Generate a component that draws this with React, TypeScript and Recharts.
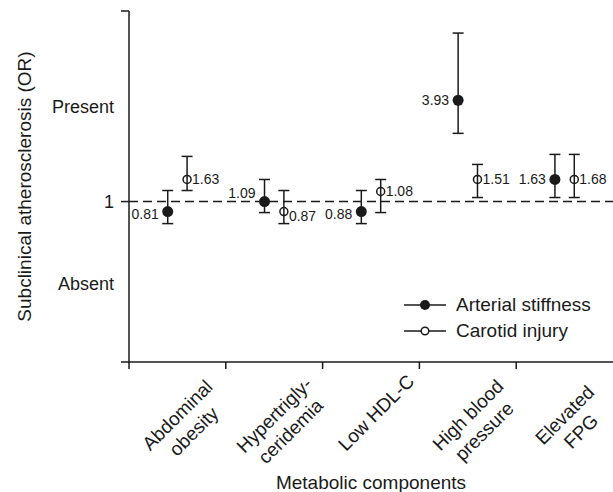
import { ScatterChart, Scatter, XAxis, YAxis, ErrorBar, ReferenceLine, Legend } from "recharts";

const categories = [
  ["Abdominal", "obesity"],
  ["Hypertrigly-", "ceridemia"],
  ["Low HDL-C"],
  ["High blood", "pressure"],
  ["Elevated", "FPG"],
];

// odds ratios printed next to the markers
const arterialOR = ["0.81", "1.09", "0.88", "3.93", "1.63"];
const carotidOR = ["1.63", "0.87", "1.08", "1.51", "1.68"];

// plotted heights on the schematic axis (0 = OR of 1)
const arterialPos = [-1.0, 0, -1.0, 10.1, 2.2];
const arterialLow = [-2.2, -1.1, -2.2, 6.8, 0.4];
const arterialHigh = [1.1, 2.2, 1.1, 16.8, 4.7];
const carotidPos = [2.2, -1.0, 1.0, 2.2, 2.2];
const carotidLow = [1.1, -2.2, -1.1, 0.4, 0.4];
const carotidHigh = [4.5, 1.1, 2.2, 3.7, 4.7];

const yTickValues = [-16, -8.2, 0, 9.5, 19];
const yTickText: Record<string, string> = { "-8.2": "Absent", "0": "1", "9.5": "Present" };

const INK = "#1a1a1a";
const AXIS_X = 129;
const BAND = (613 - AXIS_X) / 5;

const arterialData = categories.map((_, i) => ({
  x: i + 0.4,
  y: arterialPos[i],
  err: [arterialPos[i] - arterialLow[i], arterialHigh[i] - arterialPos[i]],
  label: arterialOR[i],
}));

const carotidData = categories.map((_, i) => ({
  x: i + 0.6,
  y: carotidPos[i],
  err: [carotidPos[i] - carotidLow[i], carotidHigh[i] - carotidPos[i]],
  label: carotidOR[i],
}));

const YTick = (props: any) => {
  const { y, payload } = props;
  const v = payload.value;
  const text = yTickText[String(v)];
  return (
    <g>
      {text === undefined || v === 0 ? (
        <line x1={AXIS_X - 8} x2={AXIS_X} y1={y} y2={y} stroke={INK} strokeWidth={1.5} />
      ) : null}
      {text !== undefined ? (
        <text x={114} y={y} dy="0.35em" textAnchor="end" fontSize={18} fill={INK}>
          {text}
        </text>
      ) : null}
    </g>
  );
};

const XTick = (props: any) => {
  const { x, payload } = props;
  const lines = categories[payload.value] || [];
  const shift = lines.length === 1 ? 5 : 0;
  return (
    <g transform={`translate(${x + BAND / 2 + shift}, ${415 - shift / 2}) rotate(-45)`}>
      {lines.map((l, k) => (
        <text key={k} x={0} y={k * 23} dy="0.35em" textAnchor="middle" fontSize={19} fill={INK}>
          {l}
        </text>
      ))}
    </g>
  );
};

const ArterialDot = (props: any) => {
  const { cx, cy, payload } = props;
  const dy = payload.y === 0 ? -8 : payload.y < 0 ? 3 : 0;
  return (
    <g>
      <circle cx={cx} cy={cy} r={5.5} fill={INK} />
      <text x={cx - 9} y={cy + dy} dy="0.35em" textAnchor="end" fontSize={14} fill={INK}>
        {payload.label}
      </text>
    </g>
  );
};

const CarotidDot = (props: any) => {
  const { cx, cy, payload } = props;
  const dy = payload.y < 0 ? 5 : 0;
  return (
    <g>
      <circle cx={cx} cy={cy} r={4} fill="none" stroke={INK} strokeWidth={1.5} />
      <text x={cx + 5} y={cy + dy} dy="0.35em" textAnchor="start" fontSize={14} fill={INK}>
        {payload.label}
      </text>
    </g>
  );
};

const LegendBox = () => (
  <div style={{ fontSize: 19, color: INK, lineHeight: "26px" }}>
    <div style={{ display: "flex", alignItems: "center" }}>
      <svg width={44} height={14} style={{ marginRight: 9 }}>
        <line x1={1} x2={43} y1={7} y2={7} stroke={INK} strokeWidth={1.5} />
        <circle cx={22} cy={7} r={5} fill={INK} />
      </svg>
      Arterial stiffness
    </div>
    <div style={{ display: "flex", alignItems: "center" }}>
      <svg width={44} height={14} style={{ marginRight: 9 }}>
        <line x1={1} x2={43} y1={7} y2={7} stroke={INK} strokeWidth={1.5} />
        <circle cx={22} cy={7} r={3.8} fill="#fff" stroke={INK} strokeWidth={1.5} />
      </svg>
      Carotid injury
    </div>
  </div>
);

export default function App() {
  return (
    <div style={{ position: "absolute", left: 0, top: 0, fontFamily: "'Liberation Sans', Arial, sans-serif" }}>
      <ScatterChart width={613} height={492} margin={{ top: 11, right: 0, bottom: 0, left: 0 }}>
        <XAxis
          type="number"
          dataKey="x"
          domain={[0, 5]}
          ticks={[0, 1, 2, 3, 4]}
          interval={0}
          height={130}
          tickSize={7}
          tickLine={{ stroke: INK, strokeWidth: 1.5 }}
          axisLine={{ stroke: INK, strokeWidth: 1.5 }}
          tick={<XTick />}
          label={{ value: "Metabolic components", position: "insideBottom", offset: 3, fontSize: 19, fill: INK }}
        />
        <YAxis
          type="number"
          dataKey="y"
          domain={[-16, 19]}
          ticks={yTickValues}
          interval={0}
          width={AXIS_X}
          tickLine={false}
          axisLine={{ stroke: INK, strokeWidth: 1.5 }}
          tick={<YTick />}
          label={{
            value: "Subclinical atherosclerosis (OR)",
            angle: -90,
            position: "insideLeft",
            offset: 24,
            fontSize: 19,
            fill: INK,
            style: { textAnchor: "middle" },
          }}
        />
        <ReferenceLine y={0} stroke={INK} strokeWidth={1.5} strokeDasharray="9 5" />
        <Scatter name="Arterial stiffness" data={arterialData} shape={<ArterialDot />} isAnimationActive={false}>
          <ErrorBar dataKey="err" direction="y" width={5.5} stroke={INK} strokeWidth={1.5} isAnimationActive={false} />
        </Scatter>
        <Scatter name="Carotid injury" data={carotidData} shape={<CarotidDot />} isAnimationActive={false}>
          <ErrorBar dataKey="err" direction="y" width={5.5} stroke={INK} strokeWidth={1.5} isAnimationActive={false} />
        </Scatter>
        <Legend
          layout="horizontal"
          verticalAlign="middle"
          content={<LegendBox />}
          wrapperStyle={{ left: 403, top: 292, width: 210, bottom: "auto", right: "auto" }}
        />
      </ScatterChart>
    </div>
  );
}
